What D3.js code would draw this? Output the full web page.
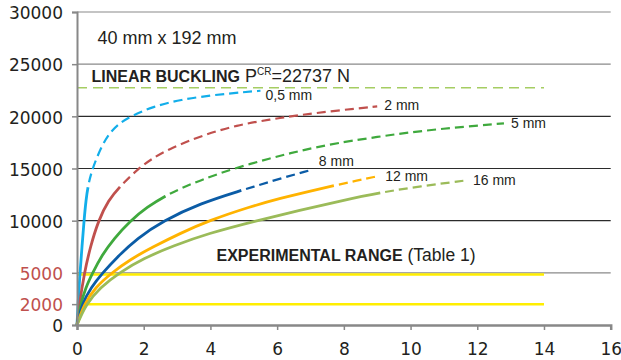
<!DOCTYPE html>
<html>
<head>
<meta charset="utf-8">
<script src="https://cdn.jsdelivr.net/npm/d3@7/dist/d3.min.js"></script>
<style>
  html, body { margin: 0; padding: 0; background: #fff; }
  svg { display: block; }
</style>
</head>
<body>
<svg id="chart" width="621" height="360"></svg>
<script>
// Load (N) against displacement (mm) for a 40 x 192 mm specimen,
// one curve per initial imperfection amplitude.
const xTicks = [0, 2, 4, 6, 8, 10, 12, 14, 16];
const yTicks = [0, 2000, 5000, 10000, 15000, 20000, 25000, 30000];
const redTicks = [2000, 5000];

const seriesLabels = ["0,5 mm", "2 mm", "5 mm", "8 mm", "12 mm", "16 mm"];
const seriesColors = ["#12aeea", "#c0504d", "#3fa93d", "#0b5ca6", "#ffb300", "#9bbb59"];

// displacement (mm) / load (N) pairs
const curve05 = [[0,0],[0.03,2000],[0.09,5000],[0.15,7500],[0.21,10000],[0.27,12000],[0.33,13300],
  [0.42,14500],[0.54,15600],[0.72,17000],[0.95,18300],[1.25,19300],[1.64,20050],[2.29,20950],
  [3.1,21600],[4.1,22050],[5.0,22320],[5.5,22450]];
const curve2 = [[0,0],[0.07,2000],[0.22,5000],[0.4,7500],[0.64,10000],[0.94,11950],[1.29,13300],
  [1.84,15000],[2.3,16050],[2.79,16930],[3.79,18210],[4.79,19150],[5.79,19700],[6.69,20130],
  [7.8,20560],[9.0,20950]];
const curve5 = [[0,0],[0.11,2000],[0.25,3500],[0.47,5000],[0.75,6700],[1.1,8250],[1.6,10000],
  [2.1,11300],[2.65,12400],[3.19,13200],[3.79,13990],[4.7,15000],[5.79,15980],[6.69,16700],
  [7.69,17400],[9.69,18370],[11.2,18900],[12.8,19330]];
const curve8 = [[0,0],[0.15,2000],[0.42,3600],[0.77,5000],[1.2,6500],[1.8,8300],[2.59,10000],
  [3.69,11650],[4.92,12900],[5.4,13350],[6.1,14050],[6.95,14800]];
const curve12 = [[0,0],[0.21,2000],[0.55,3600],[1.04,5000],[1.6,6300],[2.29,7500],[3.1,8800],
  [3.95,10000],[5.2,11350],[6.1,12150],[7.0,12850],[7.7,13350],[8.4,13850],[9.0,14250]];
const curve16 = [[0,0],[0.27,2000],[0.7,3600],[1.26,5000],[2.0,6400],[2.9,7600],[3.9,8750],
  [5.39,10000],[6.69,11000],[7.9,11900],[9.09,12700],[10.3,13300],[11.6,13830]];

// displacement (mm) up to which each curve is drawn solid; beyond it the curve is dashed
const solidUntil = [0.33, 1.29, 2.65, 4.92, 7.7, 9.09];

const bucklingLoad = 22737;
const bucklingEnd = 14;
const experimentalLoads = [2000, 4850];
const experimentalEnd = 14;

const curves = [curve05, curve2, curve5, curve8, curve12, curve16];

const svg = d3.select("#chart");
const x = d3.scaleLinear().domain([0, 16]).range([77, 610.7]);
const y = d3.scaleLinear().domain([0, 30000]).range([325, 12]);

const numFont = "'DejaVu Sans', sans-serif";
const textFont = "'Liberation Sans', Arial, sans-serif";
const ink = "#231f20";

// horizontal grid
svg.append("g")
  .selectAll("line")
  .data(yTicks.filter(v => v >= 5000))
  .join("line")
  .attr("x1", x(0)).attr("x2", x(16))
  .attr("y1", d => y(d)).attr("y2", d => y(d))
  .attr("stroke", d => (d >= 25000 || d === 5000) ? "#8a8a8a" : "#2b2b2b")
  .attr("stroke-width", 1.2);

// experimental range
svg.append("g")
  .selectAll("line")
  .data(experimentalLoads)
  .join("line")
  .attr("x1", x(0)).attr("x2", x(experimentalEnd))
  .attr("y1", d => y(d)).attr("y2", d => y(d))
  .attr("stroke", "#ffee00")
  .attr("stroke-width", 2.5);

// linear buckling load
svg.append("line")
  .attr("x1", x(0)).attr("x2", x(bucklingEnd))
  .attr("y1", y(bucklingLoad)).attr("y2", y(bucklingLoad))
  .attr("stroke", "#a5cd62")
  .attr("stroke-width", 1.6)
  .attr("stroke-dasharray", "10,6");

// curves: one smooth path per curve, stroked twice (solid head, dashed tail)
const line = d3.line()
  .x(d => x(d[0]))
  .y(d => y(d[1]))
  .curve(d3.curveBasis);

// path length at which the path first reaches screen x = px
function lengthAtX(node, px) {
  let lo = 0, hi = node.getTotalLength();
  for (let i = 0; i < 40; i++) {
    const mid = (lo + hi) / 2;
    if (node.getPointAtLength(mid).x < px) lo = mid; else hi = mid;
  }
  return (lo + hi) / 2;
}

const dash = 9, gap = 5;
const curveG = svg.append("g").attr("fill", "none");
curves.forEach((pts, i) => {
  const d = line(pts);
  const tail = curveG.append("path")
    .attr("d", d)
    .attr("stroke", seriesColors[i])
    .attr("stroke-width", 2.2);
  const node = tail.node();
  const total = node.getTotalLength();
  const ls = lengthAtX(node, x(solidUntil[i]));
  const pattern = [0, ls + gap];
  let acc = ls + gap;
  while (acc < total + dash + gap) { pattern.push(dash, gap); acc += dash + gap; }
  tail.attr("stroke-dasharray", pattern.join(","));

  curveG.append("path")
    .attr("d", d)
    .attr("stroke", seriesColors[i])
    .attr("stroke-width", 2.8)
    .attr("stroke-dasharray", `${ls},${total + 10}`);
});

// curve labels at the end of each curve
const labelDy = [9, 4, 5, -5, 5, 4];
const labelDx = [5, 7, 7, 10, 8, 9];
svg.append("g")
  .selectAll("text")
  .data(curves)
  .join("text")
  .attr("x", (d, i) => x(d[d.length - 1][0]) + labelDx[i])
  .attr("y", (d, i) => y(d[d.length - 1][1]) + labelDy[i])
  .attr("font-family", textFont)
  .attr("font-size", 14)
  .attr("fill", ink)
  .text((d, i) => seriesLabels[i]);

// axes
const yAxis = svg.append("g")
  .attr("transform", `translate(${x(0)},0)`)
  .call(d3.axisLeft(y).tickValues(yTicks).tickSize(5).tickPadding(9).tickFormat(d3.format("d")));
yAxis.select(".domain").attr("stroke", "#888").attr("stroke-width", 2);
yAxis.selectAll(".tick line").attr("stroke", "#888").attr("stroke-width", 1.5);
yAxis.selectAll(".tick text")
  .attr("font-family", numFont)
  .attr("font-size", 17)
  .attr("dy", "0.4em")
  .attr("fill", d => redTicks.includes(d) ? "#c0504d" : ink);

const xAxis = svg.append("g")
  .attr("transform", `translate(0,${y(0)})`)
  .call(d3.axisBottom(x).tickValues(xTicks).tickSize(5).tickPadding(13).tickFormat(d3.format("d")));
xAxis.select(".domain").attr("stroke", "#888").attr("stroke-width", 2.5);
xAxis.selectAll(".tick line").attr("stroke", "#888").attr("stroke-width", 1.5);
xAxis.selectAll(".tick text")
  .attr("font-family", numFont)
  .attr("font-size", 17)
  .attr("fill", ink);

// annotations
svg.append("text")
  .attr("x", 97.5).attr("y", 44)
  .attr("font-family", textFont).attr("font-size", 18).attr("fill", ink)
  .text("40 mm x 192 mm");

const buck = svg.append("text")
  .attr("x", 91.5).attr("y", 81.5)
  .attr("font-family", textFont).attr("fill", ink);
buck.append("tspan").attr("font-weight", "bold").attr("font-size", 16).text("LINEAR BUCKLING");
buck.append("tspan").attr("font-size", 18).text(" P");
buck.append("tspan").attr("font-size", 10).attr("dy", -7).text("CR");
buck.append("tspan").attr("font-size", 18).attr("dy", 7).text("=" + bucklingLoad + " N");

const exp = svg.append("text")
  .attr("x", 216.5).attr("y", 260.5)
  .attr("font-family", textFont).attr("fill", ink);
exp.append("tspan").attr("font-weight", "bold").attr("font-size", 16).text("EXPERIMENTAL RANGE");
exp.append("tspan").attr("font-size", 17.5).text(" (Table 1)");
</script>
</body>
</html>
